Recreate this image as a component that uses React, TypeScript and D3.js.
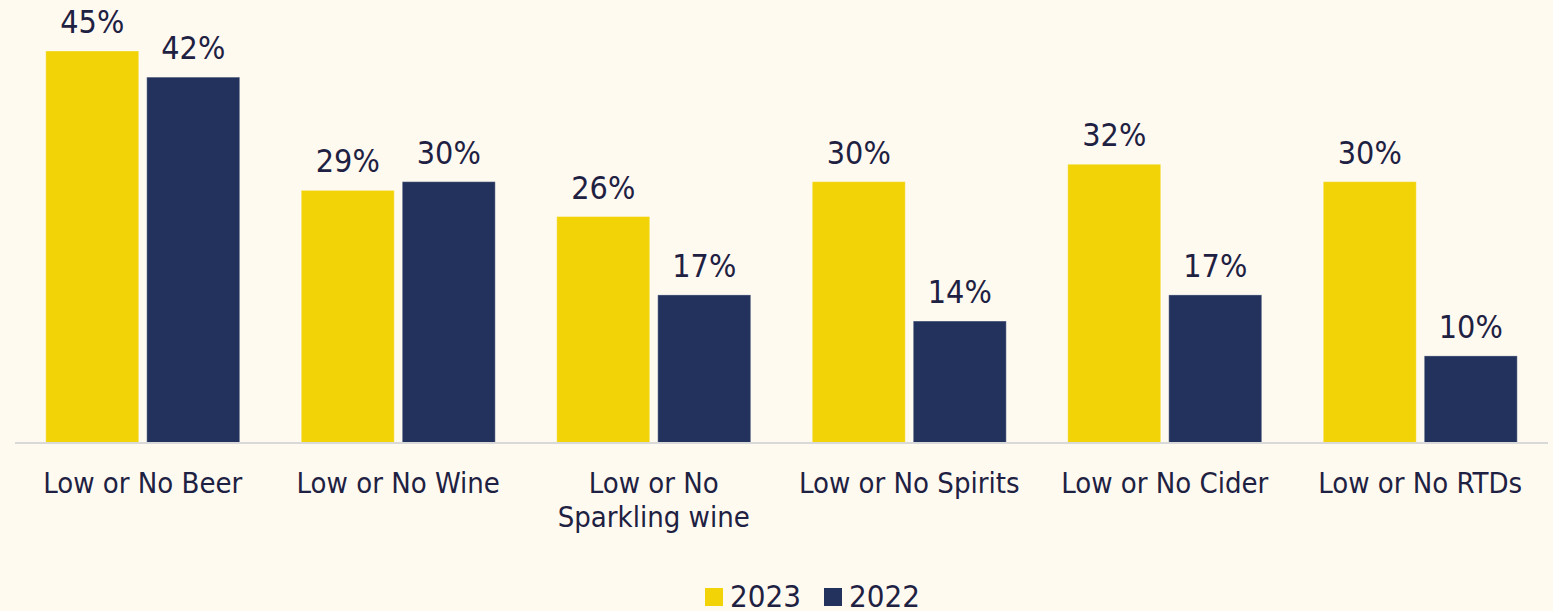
import React from "react";
import * as d3 from "d3";

const categories = [
  ["Low or No Beer"],
  ["Low or No Wine"],
  ["Low or No", "Sparkling wine"],
  ["Low or No Spirits"],
  ["Low or No Cider"],
  ["Low or No RTDs"],
];
const seriesNames = ["2023", "2022"];
const values2023 = [45, 29, 26, 30, 32, 30];
const values2022 = [42, 30, 17, 14, 17, 10];
const colors = ["#F1D307", "#22325C"];

const W = 1553;
const H = 611;
const FONT = "'DejaVu Sans Condensed', 'DejaVu Sans', sans-serif";
const TEXT = "#1E2142";

export default function App() {
  const keys = categories.map((c) => c.join(" "));
  const x = d3.scaleBand<string>().domain(keys).range([15, 1548]).paddingInner(0).paddingOuter(0);
  const xi = d3
    .scaleBand<string>()
    .domain(seriesNames)
    .range([0, x.bandwidth()])
    .paddingInner(0.0792)
    .paddingOuter(0.3045);
  const y = d3.scaleLinear().domain([0, 45]).range([443, 51]);
  const series = [values2023, values2022];

  return (
    <svg
      width={W}
      height={H}
      style={{ position: "absolute", left: 0, top: 0, background: "#FEFAF0" }}
      fontFamily={FONT}
    >
      <rect x={0} y={0} width={W} height={H} fill="#FEFAF0" />
      {keys.map((k, i) => (
        <g key={k} transform={`translate(${x(k)},0)`}>
          {seriesNames.map((s, j) => {
            const v = series[j][i];
            const bx = xi(s)!;
            return (
              <g key={s}>
                <rect
                  x={bx}
                  y={y(v)}
                  width={xi.bandwidth()}
                  height={y(0) - y(v)}
                  fill={colors[j]}
                  stroke="#ffffff"
                  strokeOpacity={0.35}
                  strokeWidth={1}
                />
                <text
                  x={bx + xi.bandwidth() / 2}
                  y={y(v) - 18}
                  textAnchor="middle"
                  fontSize={32}
                  fill={TEXT}
                >
                  {v}%
                </text>
              </g>
            );
          })}
          <text textAnchor="middle" fontSize={29} fill={TEXT}>
            {categories[i].map((line, li) => (
              <tspan key={li} x={x.bandwidth() / 2} y={493 + li * 34}>
                {line}
              </tspan>
            ))}
          </text>
        </g>
      ))}
      <line x1={15} x2={1548} y1={y(0)} y2={y(0)} stroke="#D9D9D9" strokeWidth={2} />
      {seriesNames.map((s, j) => {
        const lx = [705, 824][j];
        return (
          <g key={s}>
            <rect x={lx} y={588} width={18} height={18} fill={colors[j]} />
            <text x={lx + 25} y={607} fontSize={31} fill={TEXT}>
              {s}
            </text>
          </g>
        );
      })}
    </svg>
  );
}
